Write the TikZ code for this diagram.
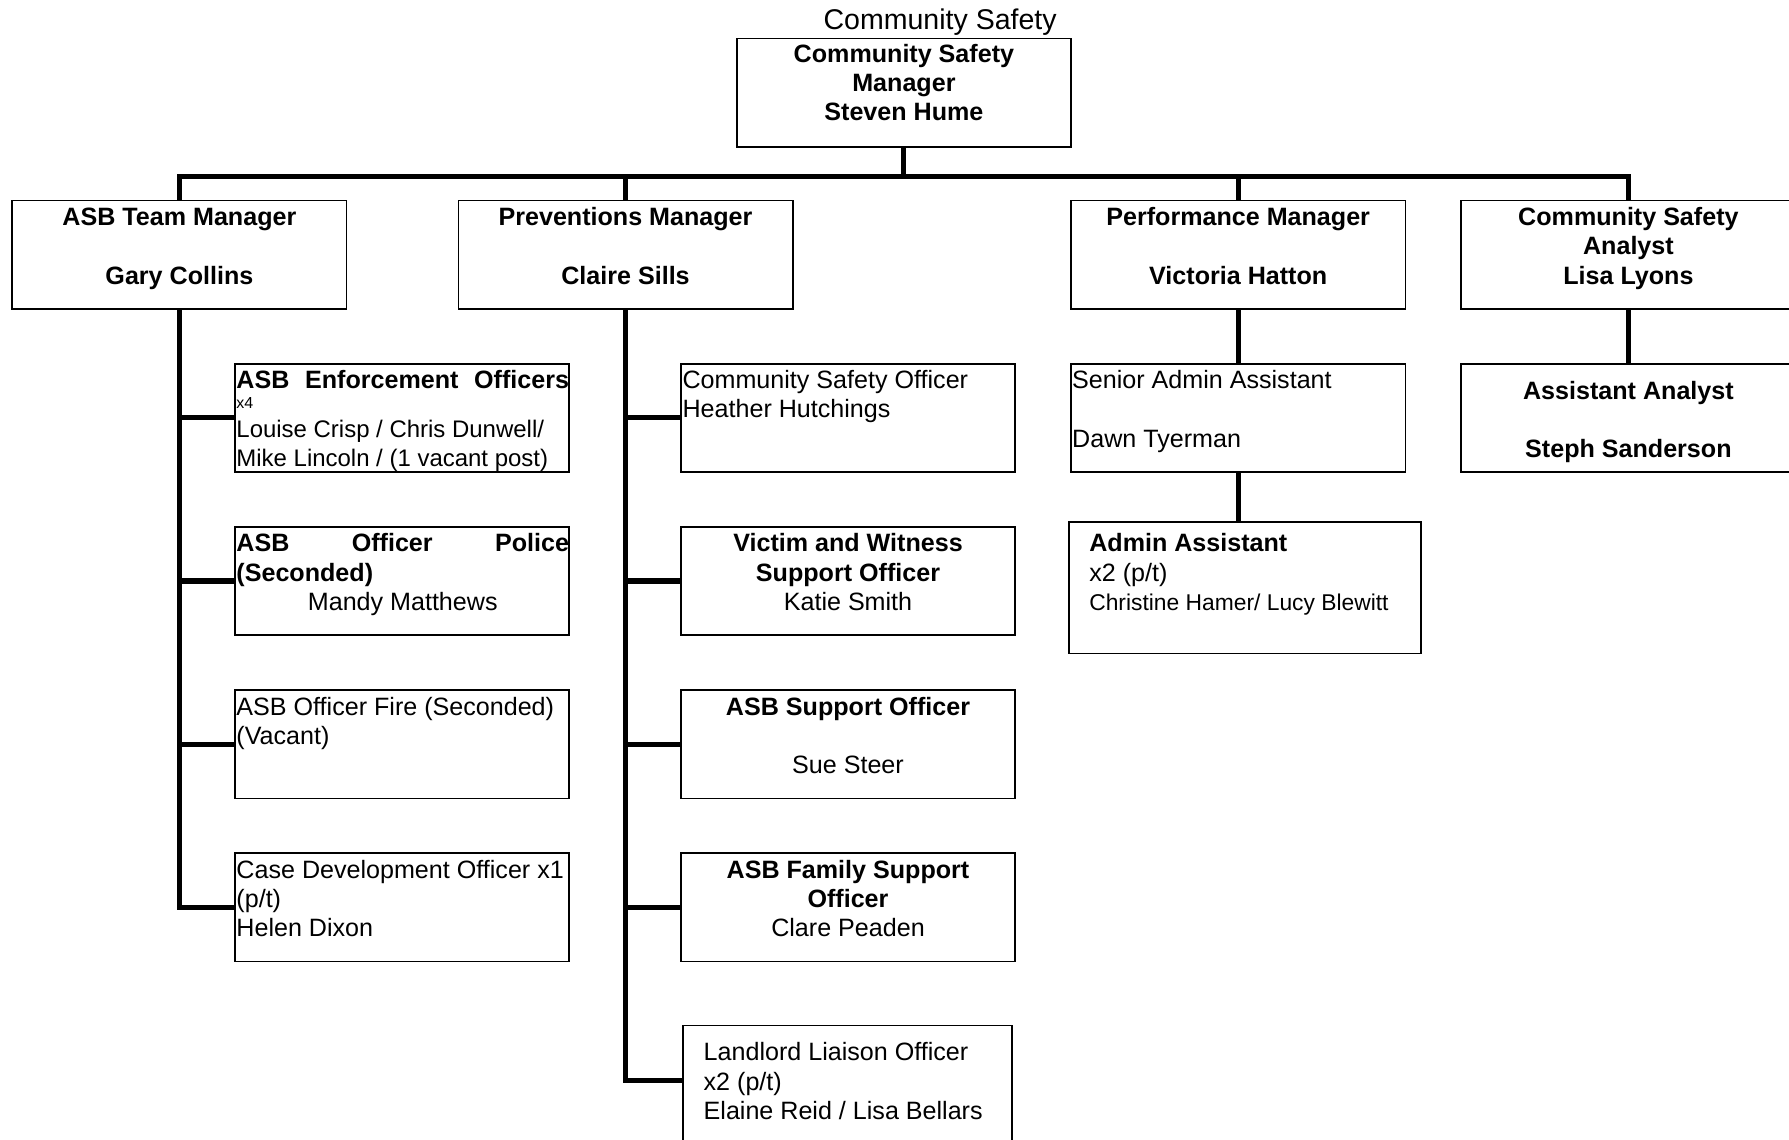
\documentclass[tikz,border=0pt]{standalone}
\usepackage{fontspec}
\setmainfont{Liberation Sans}
\usetikzlibrary{positioning}
\newcommand{\cell}[4][22pt]{\parbox[t][#3][t]{#2}{\rule{0pt}{#1}#4}}

\begin{document}
\begin{tikzpicture}[x=1pt, y=-1pt,
    box/.style={draw, line width=1.5pt, inner sep=0pt, anchor=north west},
    conn/.style={line width=4.5pt},
    font=\fontsize{22}{25.6}\selectfont]
    \def\w{293pt}
    \def\h{95pt}
    \useasboundingbox (0,0) rectangle (1568,999);

    \node(title) [anchor=base, font=\fontsize{25}{30}\selectfont] at (824,26) {Community Safety};
    \node(csm) [box] at (645,33) {\cell[21pt]{\w}{\h}{\centering\bfseries Community Safety\\Manager\\Steven Hume}};

    \node(asbm) [box] at (10,175) {\cell{\w}{\h}{\centering\bfseries ASB Team Manager\\~\\Gary Collins}};
    \node(prevm) [box] at (401,175) {\cell{\w}{\h}{\centering\bfseries Preventions Manager\\~\\Claire Sills}};
    \node(perfm) [box] at (938,175) {\cell{\w}{\h}{\centering\bfseries Performance Manager\\~\\Victoria Hatton}};
    \node(csa) [box] at (1280,175) {\cell{\w}{\h}{\centering\bfseries Community Safety\\Analyst\\Lisa Lyons}};

    \node(enf) [box] at (205,318) {\cell{\w}{\h}{\leftskip=1.5pt\textbf{ASB\hfill Enforcement\hfill Officers}\\[-8pt]{\fontsize{14}{16}\selectfont x4}\\[-0.5pt]{\fontsize{21}{25}\selectfont Louise Crisp / Chris Dunwell/}\\[-0.5pt]{\fontsize{21}{25}\selectfont Mike Lincoln / (1 vacant post)}}};
    \node(pol) [box] at (205,461) {\cell{\w}{\h}{\leftskip=1.5pt\textbf{ASB\hfill Officer\hfill Police}\\\textbf{(Seconded)}\\\null\hfill Mandy Matthews\hfill\null}};
    \node(fire) [box] at (205,604) {\cell{\w}{\h}{\leftskip=1.5pt ASB Officer Fire (Seconded)\\(Vacant)}};
    \node(cdo) [box] at (205,747) {\cell{\w}{\h}{\leftskip=1.5pt Case Development Officer x1\\(p/t)\\Helen Dixon}};

    \node(cso) [box] at (596,318) {\cell{\w}{\h}{\leftskip=1.5pt Community Safety Officer\\Heather Hutchings}};
    \node(vws) [box] at (596,461) {\cell{\w}{\h}{\centering\textbf{Victim and Witness}\\\textbf{Support Officer}\\Katie Smith}};
    \node(asbs) [box] at (596,604) {\cell{\w}{\h}{\centering\textbf{ASB Support Officer}\\~\\Sue Steer}};
    \node(fam) [box] at (596,747) {\cell{\w}{\h}{\centering\textbf{ASB Family Support}\\\textbf{Officer}\\Clare Peaden}};
    \node(llo) [box] at (598,898) {\cell[31pt]{288pt}{110pt}{\leftskip=18pt Landlord Liaison Officer\\x2 (p/t)\\Elaine Reid / Lisa Bellars}};

    \node(sadm) [box] at (938,318) {\cell{\w}{\h}{\leftskip=1pt Senior Admin Assistant\\~\\Dawn Tyerman}};
    \node(adm) [box] at (936,457) {\cell[26pt]{309pt}{115pt}{\leftskip=18pt\textbf{Admin Assistant}\\x2 (p/t)\\{\fontsize{20}{24}\selectfont Christine Hamer/ Lucy Blewitt}}};

    \node(aan) [box] at (1280,318) {\cell[31pt]{\w}{\h}{\centering\bfseries Assistant Analyst\\~\\Steph Sanderson}};

    \coordinate (bus) at (0,155);
    \draw[conn] (csm.south) -- (csm.south |- bus);
    \draw[conn] (asbm.north) -- (asbm.north |- bus) -- (csa.north |- bus) -- (csa.north);
    \draw[conn] (prevm.north) -- (prevm.north |- bus);
    \draw[conn] (perfm.north) -- (perfm.north |- bus);

    \foreach \c in {enf,pol,fire,cdo}
        \draw[conn] (asbm.south) |- (\c.west);
    \foreach \c in {cso,vws,asbs,fam}
        \draw[conn] (prevm.south) |- (\c.west);
    \draw[conn] (prevm.south) |- ([yshift=-49pt]llo.north west);

    \draw[conn] (perfm.south) -- (sadm.north);
    \draw[conn] (sadm.south) -- (sadm.south |- adm.north);
    \draw[conn] (csa.south) -- (aan.north);
\end{tikzpicture}
\end{document}
